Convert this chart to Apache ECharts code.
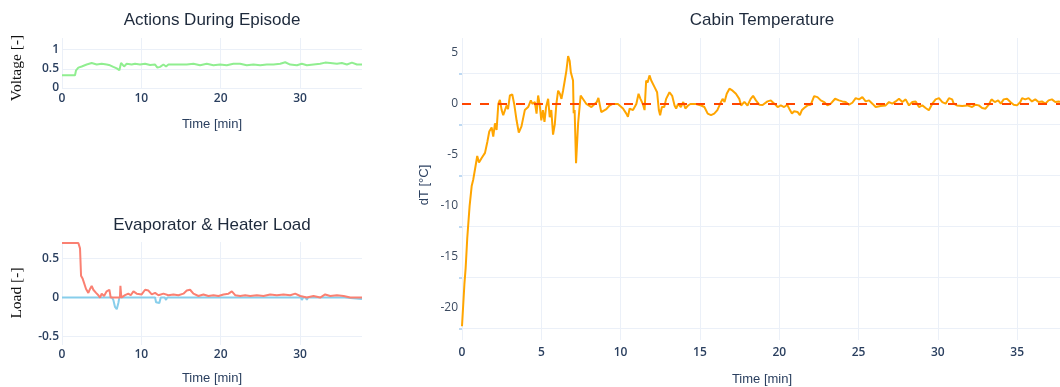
<!DOCTYPE html>
<html>
<head>
<meta charset="utf-8">
<script src="https://cdn.jsdelivr.net/npm/echarts@6/dist/echarts.min.js"></script>
<style>
  html, body { margin: 0; padding: 0; background: #fff; }
  #chart { width: 1060px; height: 387px; }
</style>
</head>
<body>
<div id="chart"></div>
<script>
// ---- Episode data (time in minutes) ----
const voltageTime = [0, 1.64, 1.77, 2.06, 2.48, 3.11, 3.74, 4.37, 5.0, 5.63, 6.05, 6.47, 6.9, 7.23, 7.44, 7.6, 7.82, 8.15, 8.78, 9.2, 9.83, 10.47, 11.1, 11.73, 12.02, 12.36, 12.78, 13.11, 13.41, 14.46, 15.72, 16.56, 17.4, 18.24, 19.08, 19.92, 20.76, 21.6, 22.44, 23.28, 24.12, 24.97, 25.8, 26.65, 27.5, 28.12, 28.75, 29.6, 30.22, 30.85, 31.69, 32.53, 33.16, 33.8, 34.64, 35.26, 35.9, 36.53, 37.16, 37.8];
const voltage = [0.33, 0.33, 0.46, 0.53, 0.56, 0.61, 0.65, 0.61, 0.63, 0.61, 0.59, 0.55, 0.51, 0.46, 0.65, 0.65, 0.56, 0.63, 0.61, 0.63, 0.61, 0.63, 0.60, 0.61, 0.53, 0.55, 0.61, 0.56, 0.61, 0.61, 0.61, 0.63, 0.59, 0.63, 0.59, 0.61, 0.59, 0.63, 0.63, 0.59, 0.61, 0.59, 0.61, 0.61, 0.63, 0.67, 0.61, 0.59, 0.63, 0.59, 0.61, 0.63, 0.66, 0.65, 0.63, 0.65, 0.61, 0.66, 0.61, 0.61];

const heaterTime = [0, 2.06, 2.27, 2.4, 2.61, 2.77, 3.03, 3.32, 3.53, 3.74, 3.95, 4.29, 4.58, 4.79, 5.0, 5.3, 5.63, 5.97, 6.14, 6.9, 7.3, 7.36, 7.48, 7.94, 8.36, 8.66, 9.0, 9.41, 10.04, 10.47, 10.89, 11.31, 11.73, 12.15, 12.78, 13.41, 14.04, 14.67, 15.3, 15.72, 16.14, 16.56, 17.19, 17.82, 18.45, 19.08, 19.72, 20.35, 20.98, 21.4, 21.82, 22.45, 23.08, 23.71, 24.55, 25.39, 26.23, 27.07, 27.91, 28.76, 29.38, 30.02, 30.85, 31.69, 32.53, 33.16, 33.8, 34.64, 35.48, 36.32, 37.8];
const heaterLoad = [0.70, 0.70, 0.63, 0.28, 0.24, 0.22, 0.11, 0.06, 0.11, 0.15, 0.10, 0.06, 0.03, 0.0, 0.05, 0.02, 0.08, 0.10, 0.0, 0.0, 0.0, 0.15, 0.0, 0.03, 0.05, 0.03, 0.08, 0.05, 0.04, 0.10, 0.09, 0.04, 0.06, 0.03, 0.05, 0.03, 0.04, 0.03, 0.05, 0.09, 0.10, 0.05, 0.02, 0.04, 0.02, 0.03, 0.02, 0.04, 0.05, 0.08, 0.03, 0.02, 0.03, 0.02, 0.03, 0.02, 0.04, 0.03, 0.04, 0.03, 0.05, 0.02, 0.0, 0.02, 0.0, 0.04, 0.02, 0.03, 0.02, 0.0, 0.0];

const evapTime = [0, 6.3, 6.47, 6.68, 6.9, 7.1, 7.23, 11.73, 11.85, 12.27, 12.44, 12.95, 13.11, 13.25, 17.05, 17.19, 17.33, 30.1, 30.22, 30.4, 30.7, 30.85, 31.0, 35.6, 35.7, 37.8];
const evapLoad = [0, 0, -0.03, -0.12, -0.15, -0.07, 0, 0, -0.06, -0.07, 0, 0, -0.03, 0, 0, -0.02, 0, 0, -0.03, 0, 0, -0.03, 0, 0, -0.02, -0.02];

const cabinTime = [0, 0.15, 0.23, 0.33, 0.48, 0.61, 0.71, 0.82, 0.96, 1.07, 1.24, 1.45, 1.6, 1.72, 1.87, 1.97, 2.08, 2.18, 2.29, 2.39, 2.5, 2.6, 2.81, 2.9, 3.02, 3.17, 3.29, 3.44, 3.58, 3.75, 3.96, 4.17, 4.34, 4.44, 4.59, 4.7, 4.8, 4.9, 5.0, 5.1, 5.2, 5.3, 5.43, 5.53, 5.63, 5.74, 5.85, 5.95, 6.06, 6.17, 6.27, 6.37, 6.48, 6.58, 6.69, 6.79, 6.86, 6.94, 7.0, 7.04, 7.1, 7.19, 7.32, 7.48, 7.6, 7.84, 8.16, 8.36, 8.5, 8.6, 8.78, 8.89, 9.1, 9.3, 9.5, 9.83, 10.15, 10.36, 10.46, 10.57, 10.78, 10.99, 11.13, 11.25, 11.4, 11.51, 11.61, 11.7, 11.82, 11.93, 12.14, 12.3, 12.41, 12.49, 12.6, 12.75, 12.87, 13.08, 13.25, 13.4, 13.5, 13.62, 13.8, 13.95, 14.08, 14.25, 14.4, 14.76, 15.08, 15.28, 15.49, 15.7, 15.9, 16.1, 16.33, 16.43, 16.55, 16.69, 16.86, 17.06, 17.27, 17.48, 17.6, 17.8, 18.0, 18.2, 18.35, 18.53, 18.74, 18.95, 19.26, 19.47, 19.69, 19.9, 20.1, 20.31, 20.5, 20.63, 20.8, 20.94, 21.15, 21.3, 21.42, 21.57, 21.78, 21.99, 22.2, 22.41, 22.62, 22.83, 23.04, 23.25, 23.52, 23.77, 23.98, 24.19, 24.4, 24.61, 24.82, 25.03, 25.24, 25.45, 25.66, 25.87, 26.08, 26.39, 26.71, 26.92, 27.13, 27.34, 27.55, 27.76, 27.97, 28.18, 28.39, 28.6, 28.81, 29.02, 29.23, 29.43, 29.65, 29.86, 30.07, 30.28, 30.49, 30.7, 30.9, 31.0, 31.2, 31.53, 31.85, 32.16, 32.37, 32.58, 32.79, 33.0, 33.21, 33.38, 33.59, 33.8, 33.97, 34.15, 34.36, 34.57, 34.78, 34.99, 35.2, 35.31, 35.51, 35.72, 35.93, 36.14, 36.35, 36.56, 36.77, 36.98, 37.19, 37.4, 37.61, 37.8];
const cabinDT = [-21.8, -17.7, -16.1, -13.2, -10.0, -8.05, -7.4, -6.4, -5.1, -5.75, -5.3, -4.8, -3.7, -2.7, -2.3, -3.2, -1.9, -2.55, 0.0, 0.4, -0.6, -1.1, -0.15, -0.5, 0.83, 0.93, 0.0, -1.6, -2.8, -2.2, -0.6, -0.3, 0.35, 0.0, 0.2, -0.94, 0.83, -0.1, -1.6, -0.6, -1.75, -0.3, 0.5, -1.3, -0.6, -3.0, -2.0, 0.0, 1.3, 1.0, 0.5, 1.3, 2.3, 3.25, 4.7, 4.2, 3.1, 3.25, 2.3, -0.9, -0.6, -5.8, -1.9, 0.83, 0.7, 0.0, -0.3, 0.0, 0.2, 0.6, -0.8, -0.8, -0.5, -0.15, 0.0, 0.0, -0.45, -0.95, -1.25, -0.45, -0.6, 0.0, 1.0, 0.5, 0.0, -0.6, 2.3, 2.1, 2.8, 2.3, 1.65, 1.15, -0.6, -1.1, -0.3, -0.3, 0.5, 1.15, 0.8, -0.15, -0.45, 0.0, -0.3, 0.2, -0.45, -0.15, 0.0, 0.0, -0.15, -0.3, -0.95, -1.1, -0.95, -0.6, 0.2, 0.5, 0.2, 1.0, 1.5, 1.3, 1.0, 0.5, -0.15, 0.2, -0.15, 0.5, 0.8, 0.35, -0.07, -0.1, 0.25, 0.35, 0.03, -0.3, -0.14, -0.3, -0.07, -0.46, -0.94, -0.72, -0.78, -1.1, -0.62, -0.4, -0.14, -0.07, 0.77, 0.67, 0.35, 0.19, -0.14, 0.03, 0.51, 0.35, 0.25, 0.19, -0.07, 0.12, 0.57, 0.45, 0.67, 0.25, 0.35, 0.03, -0.3, -0.2, -0.14, 0.19, 0.03, 0.25, 0.51, 0.19, 0.45, -0.14, 0.19, 0.25, -0.3, -0.14, -0.4, -0.62, 0.03, 0.45, 0.57, 0.19, 0.03, 0.57, 0.45, 0.03, -0.14, -0.2, -0.14, -0.3, -0.07, -0.14, -0.4, -0.46, -0.07, 0.45, 0.19, 0.35, 0.03, 0.45, 0.51, 0.19, -0.07, -0.14, 0.19, 0.57, 0.45, 0.57, 0.25, 0.45, 0.19, 0.25, 0.03, 0.35, 0.45, 0.19, 0.25, 0.2];

const setpointTime = [0, 37.8];
const setpoint = [0, 0];

// ---- Tick positions ----
const timeTicksLeft = [0, 10, 20, 30];
const timeTicksRight = [0, 5, 10, 15, 20, 25, 30, 35];
const voltageTicks = [0, 0.5, 1];
const loadTicks = [-0.5, 0, 0.5];
const dtLabelTicks = [-20, -15, -10, -5, 0, 5];
const dtGridTicks = [-22, -17, -12, -7, -2, 3];

// ---- Styling ----
const GRID = '#ebf0f8';
const TXT = '#2a3f5f';
const TITLE = '#1e2a3c';
const tickFont = (weight, color) => ({ fontFamily: 'Open Sans', fontSize: 12, fontWeight: weight, color: color || TXT });

function pairs(xs, ys) { return xs.map((x, i) => [x, ys[i]]); }

function xAxisCfg(gridIndex, max, ticks, margin, weight) {
  return {
    type: 'value', gridIndex, min: 0, max,
    axisLine: { show: false },
    axisTick: { show: false, customValues: ticks },
    axisLabel: Object.assign({ customValues: ticks, margin }, tickFont(weight)),
    splitLine: { show: true, lineStyle: { color: GRID, width: 1 } }
  };
}

function yAxisCfg(gridIndex, min, max, gridTicks, labelTicks, margin, tick, weight, color) {
  return {
    type: 'value', gridIndex, min, max,
    axisLine: { show: false },
    axisTick: tick
      ? { show: true, customValues: gridTicks, length: 3, lineStyle: { color: '#a9cdee', width: 1.5 } }
      : { show: false, customValues: gridTicks },
    axisLabel: Object.assign({ customValues: labelTicks, margin }, tickFont(weight, color)),
    splitLine: { show: true, lineStyle: { color: GRID, width: 1 } }
  };
}

function label(text, x, y, font, fill, rotate) {
  return {
    type: 'text', x, y, rotation: rotate ? Math.PI / 2 : 0, silent: true,
    style: {
      text, font, fill,
      align: 'center', verticalAlign: 'middle',
      textAlign: 'center', textVerticalAlign: 'middle'
    }
  };
}

const chart = echarts.init(document.getElementById('chart'), null, { renderer: 'canvas' });

chart.setOption({
  backgroundColor: '#fff',
  animation: false,
  grid: [
    { left: 62, right: 698, top: 38, bottom: 299 },
    { left: 62, right: 698, top: 242, bottom: 42 },
    { left: 462, right: 0, top: 38, bottom: 47 }
  ],
  xAxis: [
    xAxisCfg(0, 37.8, timeTicksLeft, 5, 600),
    xAxisCfg(1, 37.8, timeTicksLeft, 4, 600),
    xAxisCfg(2, 37.7, timeTicksRight, 7, 600)
  ],
  yAxis: [
    yAxisCfg(0, 0, 1.3, voltageTicks, voltageTicks, 3, false, 600),
    yAxisCfg(1, -0.608, 0.712, loadTicks, loadTicks, 3, false, 600),
    yAxisCfg(2, -23.15, 6.47, dtGridTicks, dtLabelTicks, 4, true, 'normal', '#3b4a60')
  ],
  graphic: [
    label('Actions During Episode', 212, 20, '17px "Liberation Sans"', TITLE),
    label('Time [min]', 212, 124, '13px "Liberation Sans"', TXT),
    label('Voltage [-]', 17, 68, '15.5px "Liberation Serif"', '#111', true),
    label('Evaporator & Heater Load', 212, 225, '17px "Liberation Sans"', TITLE),
    label('Time [min]', 212, 378, '13px "Liberation Sans"', TXT),
    label('Load [-]', 17, 293, '15.5px "Liberation Serif"', '#111', true),
    label('Cabin Temperature', 762, 20, '17px "Liberation Sans"', TITLE),
    label('Time [min]', 762, 379, '13px "Liberation Sans"', TXT),
    label('dT [°C]', 424, 185, '13px "Liberation Sans"', TXT, true)
  ],
  series: [
    {
      name: 'Voltage', type: 'line', xAxisIndex: 0, yAxisIndex: 0,
      data: pairs(voltageTime, voltage), showSymbol: false,
      lineStyle: { color: '#90ee90', width: 2 }, itemStyle: { color: '#90ee90' }
    },
    {
      name: 'Evaporator', type: 'line', xAxisIndex: 1, yAxisIndex: 1,
      data: pairs(evapTime, evapLoad), showSymbol: false,
      lineStyle: { color: '#87ceeb', width: 2 }, itemStyle: { color: '#87ceeb' }
    },
    {
      name: 'Heater', type: 'line', xAxisIndex: 1, yAxisIndex: 1,
      data: pairs(heaterTime, heaterLoad), showSymbol: false,
      lineStyle: { color: '#fa8072', width: 2 }, itemStyle: { color: '#fa8072' }
    },
    {
      name: 'dT', type: 'line', xAxisIndex: 2, yAxisIndex: 2,
      data: pairs(cabinTime, cabinDT), showSymbol: false,
      lineStyle: { color: '#ffa500', width: 2 }, itemStyle: { color: '#ffa500' }
    },
    {
      name: 'Setpoint', type: 'line', xAxisIndex: 2, yAxisIndex: 2,
      data: pairs(setpointTime, setpoint), showSymbol: false,
      lineStyle: { color: '#ff4500', width: 2, type: [9, 9] }, itemStyle: { color: '#ff4500' }
    }
  ]
});
</script>
</body>
</html>
